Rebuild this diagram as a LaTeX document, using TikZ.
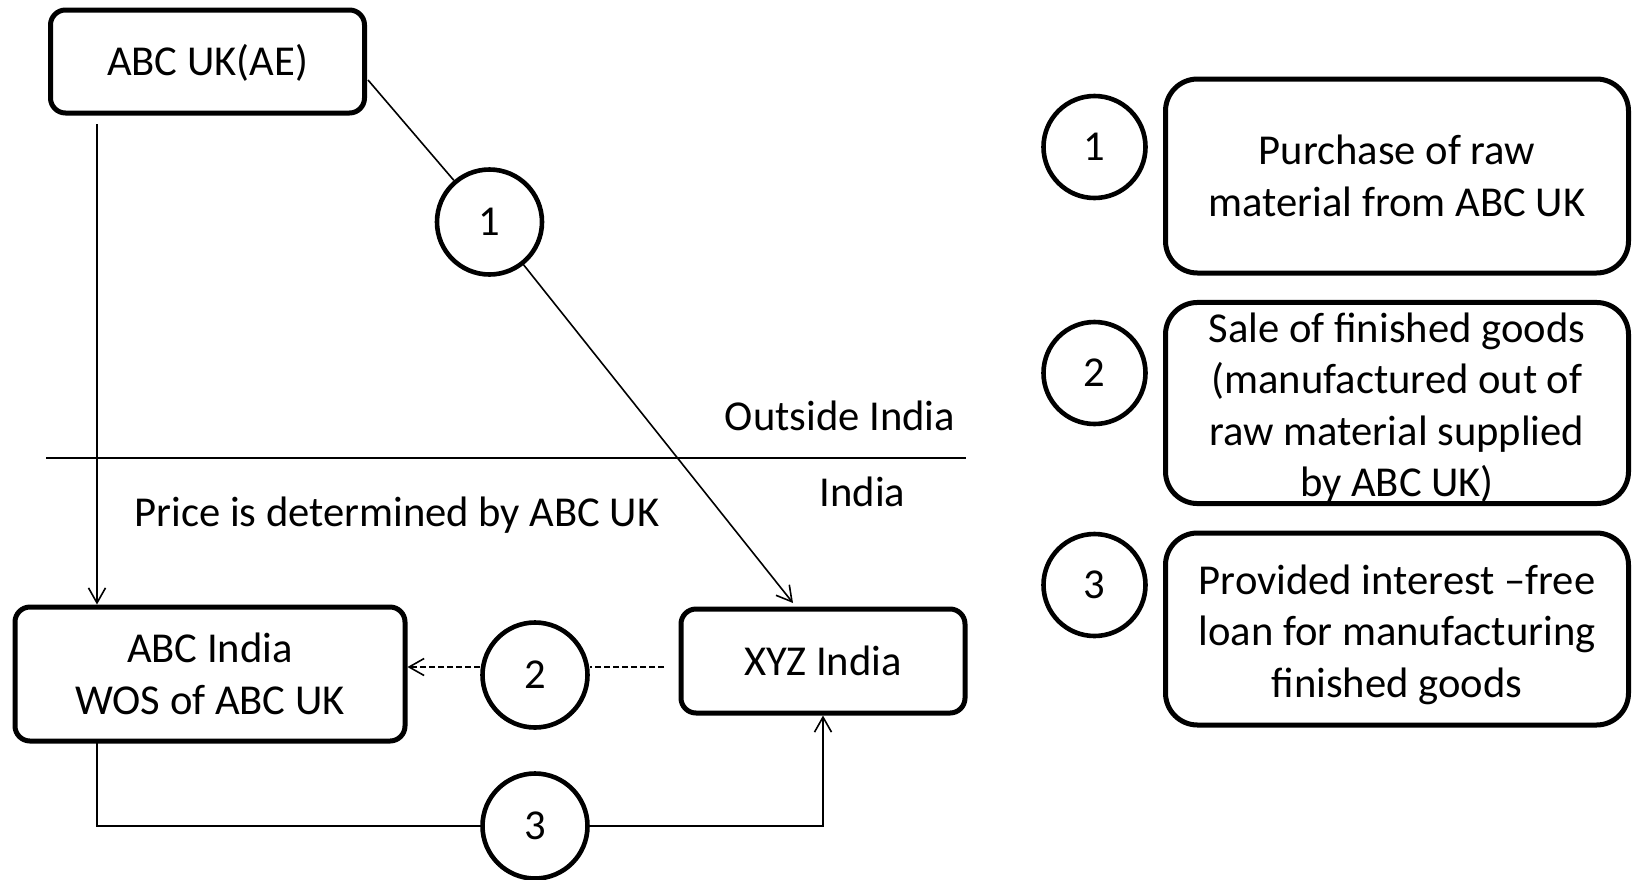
\documentclass[tikz,border=0pt]{standalone}
\usepackage{fontspec}
\setmainfont{Carlito}
\usetikzlibrary{arrows.meta}
\begin{document}
\begin{tikzpicture}[x=0.5pt,y=-0.5pt,
  every node/.style={font=\fontsize{21.3}{25.7}\selectfont},
  box/.style={draw, line width=2.5pt, rounded corners=7.5pt, align=center, inner sep=0pt},
  legendbox/.style={box, rounded corners=16pt, minimum width=231.5pt},
  num/.style={draw, circle, line width=2.3pt, minimum size=52.5pt, inner sep=0pt},
  conn/.style={line width=0.8pt},
  tip/.style={-{Straight Barb[length=7.5pt,width=8.5pt,line width=0.8pt]}},
  dash line/.style={conn, dash pattern=on 3pt off 1.5pt}
]
\useasboundingbox (0,0) rectangle (1633,879);

% companies
\node[box, minimum width=157pt, minimum height=51.5pt, text height=14.3pt, text depth=0pt] (abcuk) at (207.5,61.5) {ABC UK(AE)};
\node[box, minimum width=195pt, minimum height=67pt] (abcind) at (210,674) {ABC India\\WOS of ABC UK};
\node[box, minimum width=142pt, minimum height=52pt] (xyz) at (823,661) {XYZ India};

% transaction markers
\node[num] (c1) at (489.5,222) {1};
\node[num] (c2) at (535,675) {2};
\node[num] (c3) at (535,826) {3};

% border between jurisdictions
\coordinate (bl) at (46,458);
\coordinate (br) at (966,458);
\draw[conn] (bl) -- (br);
\node[anchor=base] (outside) at (840,430) {Outside India};
\node[anchor=base] (india) at (862.5,506) {India};
\node[anchor=base] (price) at (397,526) {Price is determined by ABC UK};

% transaction 1: raw material
\coordinate (u1) at (368,80);
\coordinate (t1) at (793,603);
\draw[conn] (u1) -- (c1);
\draw[conn,tip] (c1) -- (t1);

% control of pricing
\coordinate (a0) at (97,124);
\draw[conn,tip] (a0) -- (a0 |- abcind.north);

% transaction 2: finished goods
\coordinate (d0) at (664,667);
\draw[dash line] (d0) -- (d0 -| c2.east);
\draw[dash line,tip] (d0 -| c2.west) -- (d0 -| abcind.east);

% transaction 3: loan
\coordinate (b0) at (97,740);
\draw[conn] (b0) |- (c3.west);
\draw[conn,tip] (c3.east) -| (xyz.south);

% legend
\node[num, minimum size=51pt] (r1) at (1094.5,147) {1};
\node[num, minimum size=51pt] (r2) at (1094.5,373) {2};
\node[num, minimum size=51pt] (r3) at (1094.5,585) {3};
\node[legendbox, minimum height=97pt] (l1) at (1397,176) {Purchase of raw\\material from ABC UK};
\node[legendbox, minimum height=98pt] (l2) at (1397,403) {\rule{0pt}{20pt}Sale of finished goods\\(manufactured out of\\raw material supplied\\by ABC UK)};
\node[legendbox, minimum height=96pt] (l3) at (1397,629) {\rule{0pt}{20.5pt}Provided interest –free\\loan for manufacturing\\finished goods};
\end{tikzpicture}
\end{document}
